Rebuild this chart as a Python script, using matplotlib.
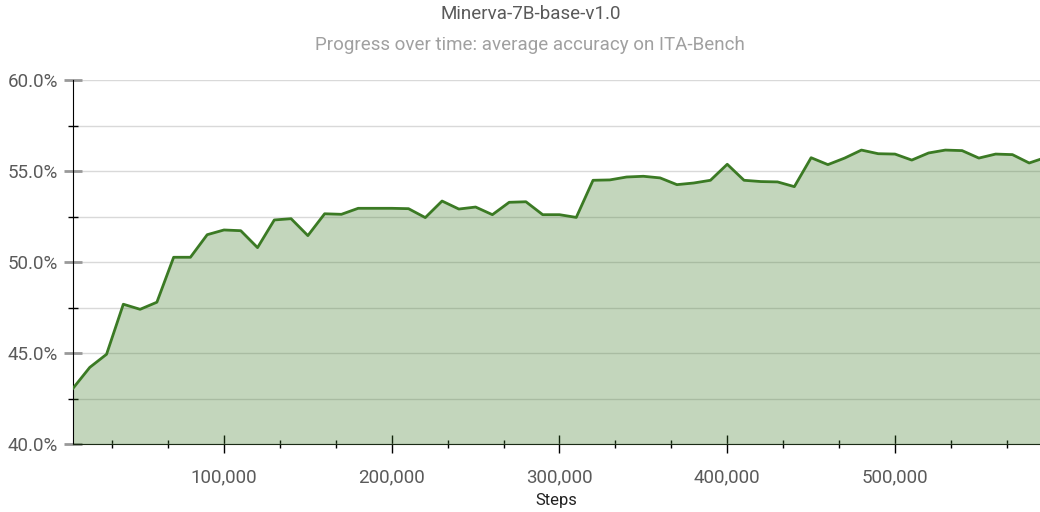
import numpy as np
import matplotlib
matplotlib.use("Agg")
import matplotlib.pyplot as plt
from matplotlib.ticker import MultipleLocator, FuncFormatter

plt.rcParams['font.family'] = ['Roboto', 'DejaVu Sans']

# data
steps = [10000 * k for k in range(1, 60)]
accuracy = [
    43.06, 44.21, 44.93, 47.68, 47.40, 47.79, 50.26, 50.26, 51.50, 51.76,
    51.72, 50.79, 52.31, 52.38, 51.45, 52.65, 52.62, 52.95, 52.95, 52.95,
    52.93, 52.44, 53.35, 52.91, 53.02, 52.60, 53.28, 53.31, 52.60, 52.60,
    52.45, 54.49, 54.51, 54.67, 54.71, 54.62, 54.25, 54.34, 54.49, 55.37,
    54.49, 54.42, 54.40, 54.14, 55.73, 55.35, 55.71, 56.15, 55.95, 55.93,
    55.60, 55.99, 56.15, 56.12, 55.71, 55.93, 55.90, 55.44, 55.75,
]
title = "Minerva-7B-base-v1.0"
subtitle = "Progress over time: average accuracy on ITA-Bench"

line_color = "#3b7a24"

fig = plt.figure(figsize=(10.4, 5.12), dpi=100)
ax = fig.add_axes([73 / 1040, 1 - 444 / 512, 1 - 73 / 1040, (444 - 80) / 512])

ax.fill_between(steps, accuracy, 40, color=line_color, alpha=0.3, lw=0, zorder=2)
ax.plot(steps, accuracy, color=line_color, lw=2, zorder=3)

ax.set_xlim(10000, 586440)
ax.set_ylim(40, 60)

# grid every 2.5%
ax.yaxis.set_major_locator(MultipleLocator(5))
ax.yaxis.set_minor_locator(MultipleLocator(2.5))
ax.xaxis.set_major_locator(MultipleLocator(100000))
ax.xaxis.set_minor_locator(MultipleLocator(100000 / 3))
ax.set_axisbelow(True)
ax.grid(axis='y', which='both', color='#d9d9d9', lw=1, zorder=0)

ax.yaxis.set_major_formatter(FuncFormatter(lambda v, p: f"{v:.1f}%"))
ax.xaxis.set_major_formatter(FuncFormatter(lambda v, p: f"{int(v):,}"))

for s in ['top', 'right']:
    ax.spines[s].set_visible(False)
ax.spines['left'].set_color('black')
ax.spines['bottom'].set_color('#1a2a14')

ax.tick_params(axis='x', which='major', direction='inout', length=13, width=1,
               color='black', labelsize=13.5, labelcolor='#5a5a5a', pad=11)
ax.tick_params(axis='x', which='minor', direction='inout', length=6, width=1, color='black')
ax.tick_params(axis='y', which='major', direction='inout', length=13, width=2,
               color='#999999', labelsize=13.5, labelcolor='#5a5a5a', pad=4)
ax.tick_params(axis='y', which='minor', direction='inout', length=7, width=1, color='black')

ax.set_xlabel("Steps", fontsize=12, color='#222222', labelpad=5)

fig.text(0.51, 1 - 14 / 512, title, ha='center', va='center', fontsize=13.5, color='#5a5a5a')
fig.text(0.51, 1 - 45 / 512, subtitle, ha='center', va='center', fontsize=13.5, color='#a0a0a0')

fig.savefig("out.png", dpi=100)
